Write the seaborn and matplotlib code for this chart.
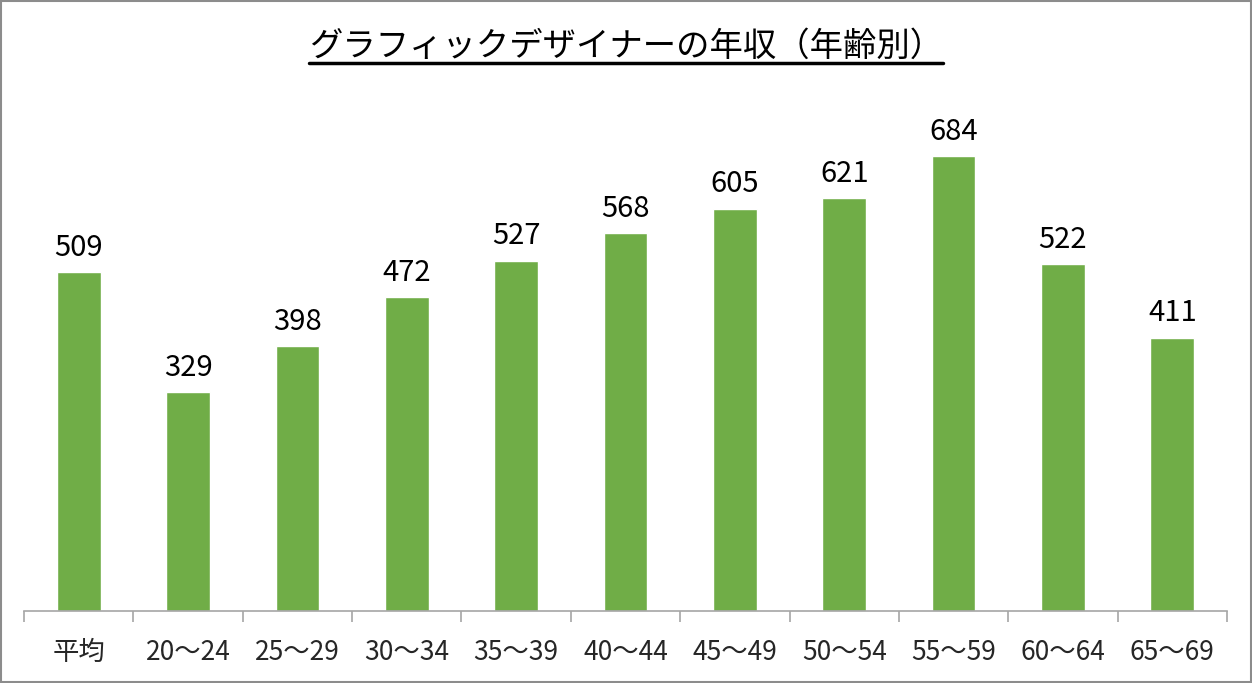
import matplotlib
matplotlib.use("Agg")
import matplotlib.pyplot as plt
import seaborn as sns
import pandas as pd
from matplotlib.lines import Line2D
from matplotlib.patches import Rectangle

categories = ["平均", "20〜24", "25〜29", "30〜34", "35〜39", "40〜44", "45〜49", "50〜54", "55〜59", "60〜64", "65〜69"]
values = [509, 329, 398, 472, 527, 568, 605, 621, 684, 522, 411]
title = "グラフィックデザイナーの年収（年齢別）"

sns.set_theme(style="white")
plt.rcParams['font.family'] = ['Noto Sans CJK JP', 'DejaVu Sans']

df = pd.DataFrame({"cat": categories, "val": values})

fig = plt.figure(figsize=(12.52, 6.83), dpi=100)
ax = fig.add_axes([0.0192, 0.1054, 0.9608, 0.779])
sns.barplot(data=df, x="cat", y="val", color="#70AD47", saturation=1, width=0.4, ax=ax)

for i, v in enumerate(values):
    ax.text(i, v + 14, str(v), ha="center", va="bottom", fontsize=21, color="black")

ax.set_ylim(0, 800)
ax.set_xlim(-0.5, len(categories) - 0.5)
ax.set_xlabel("")
ax.set_ylabel("")
ax.set_yticks([])
for s in ["top", "right", "left"]:
    ax.spines[s].set_visible(False)
ax.spines["bottom"].set_color("#A6A6A6")
ax.spines["bottom"].set_linewidth(1.2)

ax.set_xticks(range(len(categories)))
ax.set_xticklabels(categories, fontsize=19)
ax.tick_params(axis="x", which="major", length=0, pad=20, bottom=True)
ax.set_xticks([i - 0.5 for i in range(len(categories) + 1)], minor=True)
ax.tick_params(axis="x", which="minor", length=8, width=1.2, color="#A6A6A6", direction="out", bottom=True)

t = fig.text(0.5, 0.932, title, ha="center", va="center", fontsize=24, color="black")
fig.canvas.draw()
bb = t.get_window_extent().transformed(fig.transFigure.inverted())
fig.add_artist(Line2D([bb.x0, bb.x1], [bb.y0 + 0.002, bb.y0 + 0.002], transform=fig.transFigure, color="black", linewidth=2.5))

fig.add_artist(Rectangle((0.001, 0.001), 0.998, 0.997, transform=fig.transFigure, fill=False, edgecolor="#8C8C8C", linewidth=1.5))

fig.savefig("out.png", dpi=100)
